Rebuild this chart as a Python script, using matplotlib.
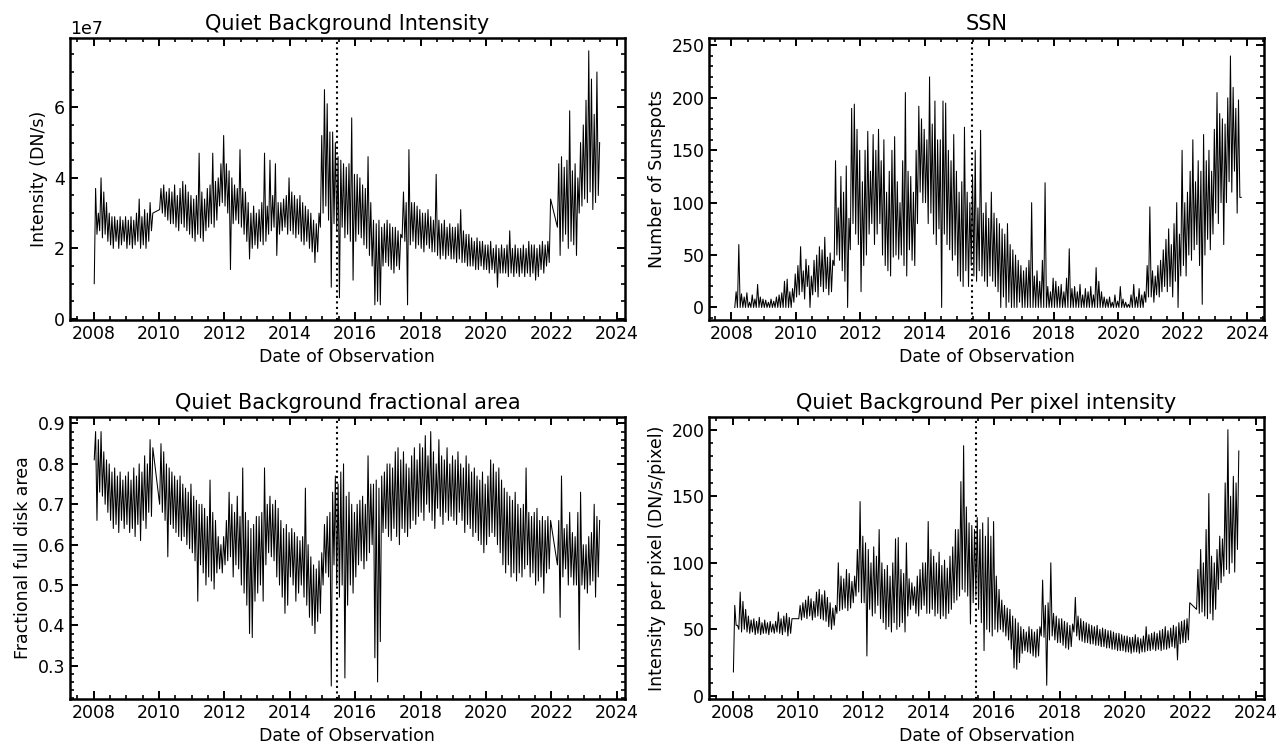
import numpy as np
import matplotlib.pyplot as plt
from matplotlib.ticker import AutoMinorLocator, MultipleLocator

nan = np.nan

# Monthly low / high values, one row per year,
# starting January 2008.  nan = month without data.

# Quiet background intensity, 1e6 DN/s
intensity_lo = [
    10, 24, 25, 23, 24, 22, 21, 20, 22, 20, 21, 22,
    20, 21, 20, 21, 22, 20, 21, 20, 22, 25, nan, nan,
    31, 30, 29, 28, 27, 27, 26, 25, 27, 26, 25, 24,
    23, 22, 24, 23, 22, 25, 26, 27, 26, 28, 32, 33,
    32, 30, 14, 27, 28, 27, 26, 24, 22, 17, 20, 21,
    20, 22, 21, 22, 24, 25, 26, 18, 24, 25, 26, 24,
    25, 24, 23, 24, 22, 21, 22, 20, 19, 16, 19, 26,
    30, 32, 28, 9, 27, 25, 6, 26, 23, 24, 22, 11,
    22, 24, 23, 21, 20, 18, 15, 4, 5, 4, 15, 16,
    15, 14, 13, 15, 14, 23, 22, 4, 21, 22, 20, 21,
    20, 19, 21, 20, 19, 19, 18, 17, 18, 17, 18, 17,
    17, 16, 17, 16, 16, 15, 15, 15, 14, 14, 15, 14,
    14, 13, 14, 13, 9, 13, 13, 13, 12, 13, 12, 13,
    12, 13, 12, 13, 12, 13, 11, 12, 14, 13, 15, 16,
    nan, nan, 26, 18, 22, 24, 20, 22, 21, 18, 30, 32,
    34, 33, 36, 31, 33, 35,
]
intensity_hi = [
    37, 30, 40, 36, 33, 30, 29, 29, 28, 29, 28, 29,
    28, 29, 28, 30, 34, 29, 31, 30, 33, 30, nan, nan,
    37, 38, 36, 37, 36, 38, 35, 37, 39, 38, 36, 35,
    34, 35, 47, 36, 34, 37, 38, 47, 39, 40, 44, 52,
    44, 42, 40, 38, 37, 48, 37, 36, 33, 30, 32, 30,
    31, 33, 47, 32, 45, 35, 44, 33, 33, 34, 35, 40,
    36, 35, 34, 35, 33, 32, 31, 30, 28, 27, 30, 52,
    65, 61, 53, 53, 50, 46, 45, 44, 43, 44, 57, 41,
    41, 40, 38, 37, 46, 33, 28, 27, 28, 26, 27, 28,
    27, 26, 26, 25, 24, 36, 33, 48, 33, 33, 32, 31,
    30, 30, 31, 29, 28, 41, 28, 27, 28, 26, 27, 26,
    26, 27, 31, 25, 24, 24, 23, 22, 23, 22, 22, 21,
    21, 22, 20, 21, 20, 21, 20, 21, 25, 20, 21, 20,
    20, 21, 20, 22, 21, 21, 20, 21, 22, 21, 22, 34,
    nan, nan, 44, 46, 43, 45, 59, 42, 44, 40, 50, 55,
    62, 76, 68, 58, 70, 50,
]

# Sunspot number
ssn_lo = [
    nan, 0, 0, 0, 0, 0, 0, 0, 0, 0, 0, 0,
    0, 0, 0, 0, 0, 0, 0, 0, 0, 0, 0, 5,
    10, 12, 15, 8, 20, 0, 12, 15, 10, 20, 15, 18,
    12, 15, 40, 50, 45, 35, 25, 0, 55, 80, 70, 60,
    15, 40, 50, 70, 80, 60, 70, 80, 50, 40, 35, 30,
    48, 50, 46, 50, 40, 30, 55, 45, 40, 80, 110, 100,
    100, 80, 90, 70, 60, 75, 0, 70, 60, 55, 45, 50,
    30, 25, 20, 35, 20, 40, 30, 25, 35, 30, 25, 20,
    30, 25, 20, 15, 0, 10, 0, 5, 0, 0, 0, 5,
    0, 0, 0, 0, 0, 0, 0, 0, 0, 0, 0, 0,
    0, 0, 0, 0, 0, 0, 0, 0, 0, 0, 0, 0,
    0, 0, 0, 0, 0, 0, 0, 0, 0, 0, 0, 0,
    0, 0, 0, 0, 0, 0, 0, 0, 0, 0, 5, 10,
    10, 5, 12, 10, 15, 20, 15, 20, 10, 25, 0, 30,
    40, 30, 50, 45, 55, 60, 40, 3, 50, 65, 55, 70,
    90, 80, 100, 60, 100, 120, 110, 130, 90, 105,
]
ssn_hi = [
    nan, 15, 60, 13, 10, 14, 5, 12, 8, 22, 10, 8,
    7, 5, 8, 6, 10, 12, 14, 25, 27, 15, 18, 32,
    40, 58, 35, 46, 40, 30, 45, 50, 58, 55, 67, 48,
    52, 45, 140, 95, 125, 110, 135, 85, 190, 194, 170, 150,
    120, 150, 168, 130, 165, 150, 170, 140, 160, 110, 130, 150,
    163, 120, 100, 140, 205, 130, 125, 110, 150, 192, 180, 170,
    160, 220, 175, 197, 160, 160, 197, 195, 150, 140, 165, 130,
    110, 120, 172, 110, 100, 125, 150, 95, 169, 90, 100, 85,
    110, 90, 85, 80, 75, 70, 80, 60, 55, 50, 45, 40,
    35, 38, 45, 100, 30, 35, 25, 45, 119, 20, 15, 28,
    25, 20, 22, 15, 28, 56, 18, 20, 15, 22, 12, 18,
    15, 20, 12, 38, 25, 15, 10, 8, 10, 5, 12, 6,
    20, 8, 5, 3, 12, 22, 10, 18, 12, 15, 40, 96,
    35, 30, 40, 45, 55, 65, 75, 60, 80, 100, 70, 150,
    100, 110, 130, 160, 120, 140, 130, 165, 140, 150, 130, 170,
    205, 185, 180, 175, 200, 240, 210, 190, 198, 105,
]

# Quiet background fractional area, percent of full disk
area_lo = [
    81, 66, 73, 72, 70, 68, 66, 64, 65, 63, 66, 64,
    65, 63, 64, 62, 65, 61, 66, 64, 68, 67, nan, nan,
    70, 68, 66, 57, 65, 64, 63, 62, 61, 62, 60, 59,
    58, 56, 46, 55, 53, 50, 52, 51, 49, 53, 54, 53,
    55, 56, 57, 52, 55, 54, 50, 48, 45, 38, 37, 46,
    48, 50, 46, 55, 58, 57, 56, 52, 50, 47, 43, 45,
    52, 50, 46, 48, 50, 47, 45, 42, 40, 38, 41, 43,
    50, 53, 52, 25, 55, 50, 47, 50, 27, 45, 50, 48,
    52, 55, 56, 54, 56, 58, 60, 32, 26, 36, 63, 64,
    62, 61, 64, 62, 60, 64, 63, 62, 64, 66, 65, 67,
    68, 66, 70, 68, 66, 64, 69, 67, 65, 68, 66, 67,
    66, 65, 68, 66, 63, 65, 64, 62, 63, 61, 60, 58,
    60, 62, 63, 62, 60, 58, 55, 53, 55, 52, 53, 51,
    53, 52, 54, 55, 52, 53, 50, 51, 52, 48, 53, 54,
    nan, nan, 55, 42, 52, 54, 50, 52, 50, 50, 34, 50,
    49, 48, 50, 51, 47, 52,
]
area_hi = [
    88, 86, 88, 83, 81, 80, 78, 79, 77, 78, 76, 77,
    78, 76, 79, 77, 80, 78, 82, 80, 86, 84, nan, nan,
    85, 83, 80, 79, 78, 77, 76, 77, 75, 74, 73, 75,
    72, 71, 70, 70, 69, 67, 76, 68, 66, 62, 60, 62,
    66, 73, 70, 68, 72, 67, 79, 68, 66, 64, 65, 67,
    67, 68, 79, 70, 72, 70, 71, 69, 66, 64, 65, 63,
    64, 63, 62, 61, 62, 74, 60, 57, 55, 54, 56, 58,
    65, 67, 68, 73, 77, 75, 78, 80, 72, 73, 70, 68,
    70, 71, 72, 70, 82, 75, 75, 76, 74, 77, 78, 80,
    80, 79, 83, 84, 81, 83, 80, 79, 82, 84, 81, 85,
    84, 87, 82, 88, 83, 80, 86, 82, 81, 84, 80, 82,
    81, 83, 80, 79, 82, 80, 78, 79, 77, 76, 78, 75,
    77, 81, 80, 78, 79, 76, 74, 73, 72, 71, 73, 70,
    69, 70, 79, 68, 67, 68, 69, 66, 67, 66, 67, 66,
    nan, nan, 66, 77, 64, 65, 68, 63, 62, 68, 73, 60,
    60, 62, 63, 70, 67, 66,
]

# Quiet background per pixel intensity, DN/s/pixel
perpix_lo = [
    18, 53, 50, 48, 50, 48, 47, 48, 46, 47, 46, 47,
    47, 46, 48, 47, 48, 47, 46, 48, 45, 47, nan, nan,
    58, 57, 59, 58, 60, 57, 59, 60, 58, 57, 56, 52,
    50, 53, 62, 64, 65, 66, 64, 66, 70, 75, 78, 70,
    70, 30, 65, 60, 62, 68, 58, 55, 50, 52, 48, 55,
    50, 52, 55, 48, 60, 65, 68, 62, 60, 65, 68, 62,
    62, 65, 60, 62, 58, 60, 58, 62, 65, 70, 72, 75,
    80, 78, 75, 54, 70, 75, 65, 55, 34, 50, 48, 45,
    50, 48, 50, 48, 45, 42, 35, 21, 20, 25, 32, 34,
    33, 32, 30, 29, 30, 45, 44, 8, 42, 45, 42, 40,
    40, 38, 36, 35, 37, 48, 45, 42, 41, 40, 40, 39,
    39, 38, 38, 37, 37, 36, 36, 35, 35, 34, 34, 34,
    33, 33, 32, 33, 33, 32, 33, 33, 34, 34, 35, 34,
    35, 34, 35, 35, 36, 37, 36, 27, 39, 40, 40, 42,
    nan, nan, 65, 62, 63, 60, 58, 62, 57, 65, 80, 85,
    90, 95, 92, 100, 93, 110,
]
perpix_hi = [
    68, 53, 78, 71, 65, 60, 57, 58, 56, 59, 55, 57,
    55, 56, 54, 56, 63, 58, 60, 62, 59, 58, nan, nan,
    68, 70, 72, 75, 73, 71, 78, 80, 76, 79, 74, 70,
    66, 68, 100, 90, 88, 95, 92, 86, 90, 110, 146, 120,
    115, 110, 100, 112, 105, 125, 100, 95, 98, 90, 100, 118,
    119, 95, 92, 115, 88, 85, 82, 90, 95, 100, 100, 131,
    110, 105, 100, 108, 98, 102, 96, 105, 112, 125, 125, 161,
    188, 142, 130, 128, 125, 134, 125, 130, 120, 134, 120, 131,
    90, 80, 72, 68, 66, 65, 60, 58, 55, 52, 50, 48,
    52, 50, 48, 50, 52, 87, 68, 70, 100, 62, 60, 58,
    58, 56, 55, 53, 54, 74, 60, 58, 56, 55, 54, 53,
    52, 53, 50, 51, 50, 49, 49, 48, 47, 47, 46, 45,
    45, 44, 44, 46, 44, 43, 45, 52, 46, 47, 48, 47,
    49, 50, 52, 49, 51, 53, 52, 55, 56, 57, 58, 70,
    nan, nan, 95, 110, 100, 125, 152, 105, 100, 110, 120, 118,
    160, 200, 150, 165, 160, 184,
]

start_year = 2008.0
cutoff_date = 2015.45  # dotted marker line
year_ticks = list(range(2008, 2025, 2))


def zigzag(lo, hi, scale=1.0):
    # each month drawn as a low point followed by a high point
    t, v = [], []
    for i, (a, b) in enumerate(zip(lo, hi)):
        if np.isnan(a):
            continue
        t += [start_year + (i + 0.25) / 12, start_year + (i + 0.75) / 12]
        v += [a * scale, b * scale]
    return np.array(t), np.array(v)


panels = [
    (intensity_lo, intensity_hi, 1e6, "Quiet Background Intensity", "Intensity (DN/s)",
     (2007.28, 2024.25), (-0.03e7, 7.96e7), 2e7),
    (ssn_lo, ssn_hi, 1.0, "SSN", "Number of Sunspots",
     (2007.31, 2024.52), (-12, 257), 50),
    (area_lo, area_hi, 0.01, "Quiet Background fractional area", "Fractional full disk area",
     (2007.28, 2024.25), (0.218, 0.916), 0.1),
    (perpix_lo, perpix_hi, 1.0, "Quiet Background Per pixel intensity", "Intensity per pixel (DN/s/pixel)",
     (2007.28, 2024.25), (-2.3, 209.5), 50),
]

fig, axes = plt.subplots(2, 2, figsize=(12.8, 7.47), dpi=100)
plt.subplots_adjust(left=0.0547, right=0.9875, top=0.949, bottom=0.0643,
                    wspace=0.152, hspace=0.344)

for ax, (lo, hi, scale, title, ylabel, xlim, ylim, ystep) in zip(axes.flat, panels):
    t, v = zigzag(lo, hi, scale)
    ax.plot(t, v, color="k", lw=0.75)
    ax.axvline(cutoff_date, color="k", ls=":", lw=1.5)
    ax.set_xlim(*xlim)
    ax.set_ylim(*ylim)
    ax.set_xticks(year_ticks)
    ax.set_xticklabels([str(y) for y in year_ticks])
    ax.yaxis.set_major_locator(MultipleLocator(ystep))
    ax.xaxis.set_minor_locator(AutoMinorLocator(4))
    ax.yaxis.set_minor_locator(AutoMinorLocator())
    ax.tick_params(which="both", direction="in", top=True, right=True, labelsize=12.5)
    ax.tick_params(which="major", length=5.5, width=1.4)
    ax.tick_params(which="minor", length=3, width=1.2)
    for sp in ax.spines.values():
        sp.set_linewidth(1.8)
    ax.set_title(title, fontsize=15)
    ax.set_xlabel("Date of Observation", fontsize=12.5)
    ax.set_ylabel(ylabel, fontsize=12.5)

axes[0, 0].yaxis.get_offset_text().set_fontsize(12.5)

plt.savefig("out.png")
